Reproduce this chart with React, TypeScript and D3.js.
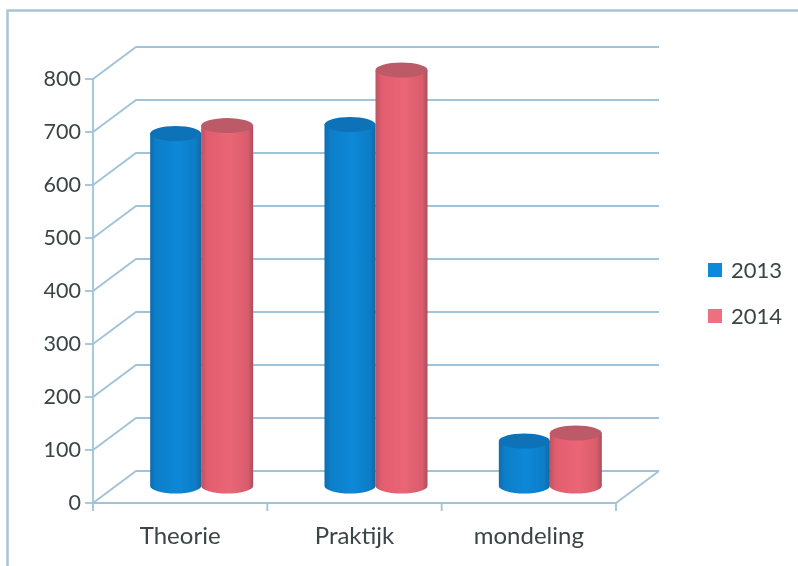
import React from "react";
import * as d3 from "d3";

const categories = ["Theorie", "Praktijk", "mondeling"];
const series2013 = [665, 682, 85];
const series2014 = [680, 785, 100];
const seriesNames = ["2013", "2014"];
const yTicks = [0, 100, 200, 300, 400, 500, 600, 700, 800];

const W = 798, H = 566;
const y = d3.scaleLinear().domain([0, 800]).range([503, 79]);
const x = d3.scaleBand<string>().domain(categories).range([93, 616]);
const depthX = 43, depthY = -32;
const cylY = d3.scaleLinear().domain([0, 800]).range([486, 62]);
const gridColor = "#9fc3d8";
const textColor = "#3a4444";
const font = "Lato, 'Open Sans', sans-serif";

function Cylinder({ cx, w, v, fill, top }: { cx: number; w: number; v: number; fill: string; top: string }) {
  const yt = cylY(v), yb = cylY(0), rx = w / 2, ry = 7.5;
  const d = `M${cx - rx},${yt} L${cx - rx},${yb} A${rx},${ry} 0 0 0 ${cx + rx},${yb} L${cx + rx},${yt} Z`;
  return (
    <g>
      <path d={d} fill={fill} />
      <ellipse cx={cx} cy={yt} rx={rx} ry={ry} fill={top} />
    </g>
  );
}

export default function App() {
  const bw = 51;
  return (
    <svg width={W} height={H} viewBox={`0 0 ${W} ${H}`} style={{ position: "fixed", left: 0, top: 0, background: "#fff" }}>
      <defs>
        <linearGradient id="blue" x1="0" x2="1" y1="0" y2="0">
          <stop offset="0" stopColor="#0c6cb0" />
          <stop offset="0.12" stopColor="#0c7fc9" />
          <stop offset="0.55" stopColor="#0d88d8" />
          <stop offset="0.9" stopColor="#0c7cc4" />
          <stop offset="1" stopColor="#1a649e" />
        </linearGradient>
        <linearGradient id="red" x1="0" x2="1" y1="0" y2="0">
          <stop offset="0" stopColor="#bd5563" />
          <stop offset="0.12" stopColor="#e25d6f" />
          <stop offset="0.55" stopColor="#ea6676" />
          <stop offset="0.9" stopColor="#da5c6c" />
          <stop offset="1" stopColor="#a84e5c" />
        </linearGradient>
        <filter id="soft" x="-5%" y="-5%" width="110%" height="110%">
          <feGaussianBlur stdDeviation="0.7" />
        </filter>
      </defs>
      <g filter="url(#soft)">
        <path d={`M7.5,${H + 5} L7.5,10.5 L${W + 5},10.5`} fill="none" stroke="#a9c3d6" strokeWidth={2.5} />
        {yTicks.map((t) => (
          <g key={t} stroke={gridColor} strokeWidth={1.8} fill="none">
            <line x1={85} x2={93} y1={y(t)} y2={y(t)} />
            <polyline points={`93,${y(t)} ${93 + depthX},${y(t) + depthY} ${616 + depthX},${y(t) + depthY}`} />
          </g>
        ))}
        <g stroke={gridColor} strokeWidth={1.8} fill="none">
          <line x1={93} x2={93} y1={y(800)} y2={y(0)} />
          <line x1={93} x2={616} y1={y(0)} y2={y(0)} />
          <line x1={616} x2={616 + depthX} y1={y(0)} y2={y(0) + depthY} />
          {[0, 1, 2, 3].map((i) => {
            const px = 93 + i * x.bandwidth();
            return <line key={i} x1={px} x2={px} y1={y(0)} y2={y(0) + 8} />;
          })}
        </g>
        {categories.map((c, i) => {
          const mid = (x(c) as number) + x.bandwidth() / 2 + 21;
          return (
            <g key={c}>
              <Cylinder cx={mid + bw / 2 + 0.5} w={bw + 1} v={series2014[i]} fill="url(#red)" top="#bd5a68" />
              <Cylinder cx={mid - bw / 2} w={bw} v={series2013[i]} fill="url(#blue)" top="#0d72b8" />
            </g>
          );
        })}
        <g fontFamily={font} fill={textColor}>
          {yTicks.map((t) => (
            <text key={t} x={81} y={y(t) + 7} textAnchor="end" fontSize={21.5}>{t}</text>
          ))}
          {categories.map((c) => (
            <text key={c} x={(x(c) as number) + x.bandwidth() / 2} y={544} textAnchor="middle" fontSize={24}>{c}</text>
          ))}
          {seriesNames.map((s, i) => (
            <g key={s}>
              <rect x={708} y={263 + i * 46} width={14} height={14} fill={i === 0 ? "#1189dc" : "#ee7080"} />
              <text x={731} y={278 + i * 46} fontSize={22}>{s}</text>
            </g>
          ))}
        </g>
      </g>
    </svg>
  );
}
